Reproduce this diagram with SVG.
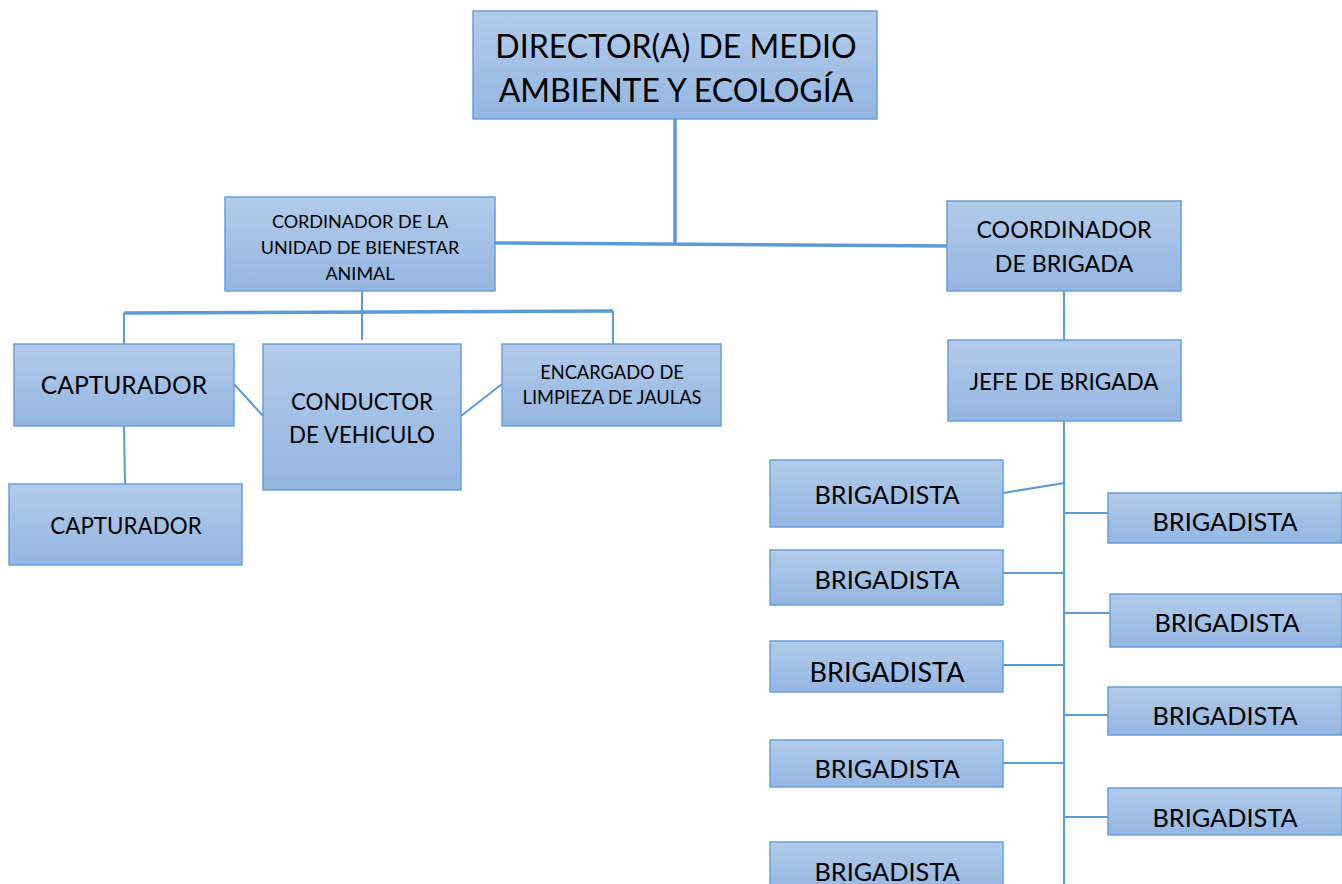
<svg xmlns="http://www.w3.org/2000/svg" width="1342" height="884" viewBox="0 0 1342 884">
<defs>
<linearGradient id="g" x1="0" y1="0" x2="0" y2="1">
<stop offset="0" stop-color="#b2cbea"/>
<stop offset="1" stop-color="#93b6e2"/>
</linearGradient>
<style>
.box{fill:url(#g);stroke:#6a9fd8;stroke-width:1.5}
.t{font-family:Lato,"Open Sans","Liberation Sans",sans-serif;fill:#000;text-anchor:middle}
.c{stroke:#5b9bd5;fill:none;stroke-width:2}
.c3{stroke:#5b9bd5;fill:none;stroke-width:3.5}
.br{font-size:25.3px}
</style>
</defs>
<rect width="1342" height="884" fill="#fff"/>
<g id="connectors">
<path class="c3" d="M675 119 V244"/>
<path class="c3" d="M495 243 L947 246"/>
<path class="c" d="M362 291 V340"/>
<path class="c3" d="M124 313 L613 311"/>
<path class="c" d="M124 313 V344 M613 311 V344"/>
<path class="c" d="M234 384 L263 416 M461 416 L502 384"/>
<path class="c" d="M124 426 L125 484"/>
<path class="c" d="M1064 291 V340"/>
<path class="c" d="M1064 421 V884"/>
<path class="c" d="M1003 493 L1064 483 M1003 573 H1064 M1003 665 H1064 M1003 763 H1064"/>
<path class="c" d="M1064 513 H1108 M1064 613 H1110 M1064 715 H1108 M1064 817 H1108"/>
</g>
<g id="director"><rect class="box" x="473" y="11" width="404" height="108"/>
<text class="t" font-size="32" x="676" y="58">DIRECTOR(A) DE MEDIO</text>
<text class="t" font-size="32" x="676" y="102">AMBIENTE Y ECOLOGÍA</text></g>
<g id="cordinador"><rect class="box" x="225" y="197" width="270" height="94"/>
<text class="t" font-size="18" x="360" y="228">CORDINADOR DE LA</text>
<text class="t" font-size="18" x="360" y="254">UNIDAD DE BIENESTAR</text>
<text class="t" font-size="18" x="360" y="280">ANIMAL</text></g>
<g id="capturador1"><rect class="box" x="14" y="344" width="220" height="82"/>
<text class="t" font-size="24.6" x="124" y="394">CAPTURADOR</text></g>
<g id="conductor"><rect class="box" x="263" y="344" width="198" height="146"/>
<text class="t" font-size="22.3" x="362" y="410">CONDUCTOR</text>
<text class="t" font-size="22.3" x="362" y="443">DE VEHICULO</text></g>
<g id="encargado"><rect class="box" x="502" y="344" width="219" height="82"/>
<text class="t" font-size="18.3" x="612" y="379">ENCARGADO DE</text>
<text class="t" font-size="18.3" x="612" y="404">LIMPIEZA DE JAULAS</text></g>
<g id="capturador2"><rect class="box" x="9" y="484" width="233" height="81"/>
<text class="t" font-size="22.4" x="126" y="534">CAPTURADOR</text></g>
<g id="coord-brigada"><rect class="box" x="947" y="201" width="234" height="90"/>
<text class="t" font-size="23.2" x="1064" y="238">COORDINADOR</text>
<text class="t" font-size="23.2" x="1064" y="272">DE BRIGADA</text></g>
<g id="jefe"><rect class="box" x="948" y="340" width="233" height="81"/>
<text class="t" font-size="22.6" x="1064" y="390">JEFE DE BRIGADA</text></g>
<g id="b1"><rect class="box" x="770" y="460" width="233" height="67"/><text class="t br" x="887" y="504">BRIGADISTA</text></g>
<g id="b2"><rect class="box" x="770" y="550" width="233" height="55"/><text class="t br" x="887" y="589">BRIGADISTA</text></g>
<g id="b3"><rect class="box" x="770" y="641" width="233" height="51"/><text class="t" font-size="27" x="887" y="682">BRIGADISTA</text></g>
<g id="b4"><rect class="box" x="770" y="740" width="233" height="47"/><text class="t br" x="887" y="778">BRIGADISTA</text></g>
<g id="b5"><rect class="box" x="770" y="842" width="233" height="50"/><text class="t br" x="887" y="881">BRIGADISTA</text></g>
<g id="b6"><rect class="box" x="1108" y="493" width="234" height="50"/><text class="t br" x="1225" y="531">BRIGADISTA</text></g>
<g id="b7"><rect class="box" x="1110" y="594" width="232" height="53"/><text class="t br" x="1227" y="632">BRIGADISTA</text></g>
<g id="b8"><rect class="box" x="1108" y="687" width="234" height="48"/><text class="t br" x="1225" y="725">BRIGADISTA</text></g>
<g id="b9"><rect class="box" x="1108" y="788" width="234" height="47"/><text class="t br" x="1225" y="827">BRIGADISTA</text></g>
</svg>
